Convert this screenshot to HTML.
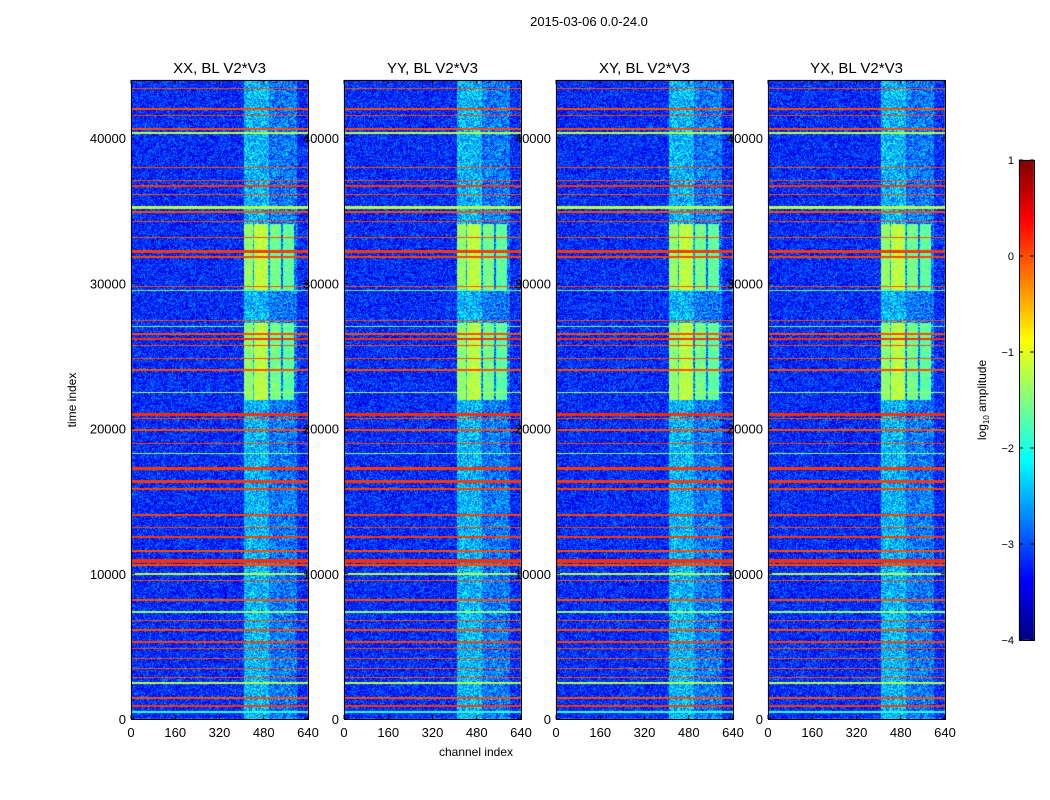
<!DOCTYPE html>
<html><head><meta charset="utf-8">
<style>
body{margin:0;background:#fff;width:1050px;height:800px;overflow:hidden;font-family:"Liberation Sans",sans-serif}
#wrap{position:relative;width:1050px;height:800px}
canvas,svg{position:absolute;left:0;top:0}
text{font-family:"Liberation Sans",sans-serif;fill:#000}
</style></head><body>
<div id="wrap">
<canvas id="cv" width="1050" height="800"></canvas>
<svg id="sv" width="1050" height="800"></svg>
</div>
<script>
// ---- data ----
const panelTitles = ["XX, BL V2*V3","YY, BL V2*V3","XY, BL V2*V3","YX, BL V2*V3"];
const xTicks = [0,160,320,480,640];
const yTicks = [0,10000,20000,30000,40000];
const cbTicks = [1,0,-1,-2,-3,-4];
const baseLevel = -3.2;
// horizontal RFI bands: time, width (time units), log10 amplitude
const bandTimes  = [43416,41970,41560,40640,40350,37960,37090,36700,36130,35210,34910,34250,33150,32190,31820,29760,29500,27420,27000,26510,26160,25700,24830,24030,22490,20960,20700,19910,18990,18300,17230,16360,15850,14020,13180,12530,11550,10860,10600,10010,9550,8180,7370,6800,6120,5310,4850,4170,3480,2860,2450,1460,890,500];
const bandWidths = [80,140,90,120,80,80,100,140,80,220,90,120,80,160,120,90,70,80,70,120,160,100,90,90,110,260,120,100,90,80,220,200,150,140,100,120,110,280,90,130,90,110,140,100,90,100,80,110,90,90,140,110,160,120];
const bandLevels = [0.0,0.0,0.05,0.0,-1.2,0.0,0.0,0.1,0.0,-1.2,0.0,0.05,0.0,0.1,0.05,0.0,-1.6,0.0,-1.5,0.0,0.15,0.0,0.0,0.0,-1.3,0.15,0.0,0.0,0.05,-1.4,0.1,0.1,0.05,0.05,0.05,0.1,0.0,0.15,0.0,-1.2,0.0,0.0,-1.4,0.0,0.0,0.05,0.0,0.0,0.0,0.0,-1.2,0.0,0.1,-1.9];
// elevated channel region and strong RFI blocks
const regionChans = [[410,500],[500,600]];
const regionLevels = [-2.45,-2.8];
const blockTimes = [[22000,27300],[29500,34100]];
const blockChans = [[410,440],[446,496],[503,541],[548,590]];
const blockLevels = [-1.4,-1.2,-1.55,-1.65];
// ---- layout ----
const panelX = [131,344,556,768], PW=177, PT=80, PB=719;
const tMax = 44000, cMax = 640;
const yOf = t => PB - t/tMax*(PB-PT);
const xOf = (p,c) => panelX[p] + c/cMax*PW;
function jet(v){let t=(v+4)/5;t=Math.max(0,Math.min(1,t));
 const f=x=>Math.round(255*Math.max(0,Math.min(1,x)));
 return [f(1.5-Math.abs(4*t-3)),f(1.5-Math.abs(4*t-2)),f(1.5-Math.abs(4*t-1))];}
function hash(a,b){let h=(a*374761393+b*668265263)^0x5bd1e995;h=(h^(h>>>13))*1274126177;return ((h^(h>>>16))>>>0)/4294967295;}
function valueAt(p,c,t,i,j){
 let v=baseLevel + (hash(i+p*999,j)-0.5)*1.1;
 for(let k=0;k<regionChans.length;k++){const rc=regionChans[k];
  if(c>=rc[0]&&c<rc[1]) v=regionLevels[k]+(hash(j,i+7)-0.5)*1.3;}
 for(const bt of blockTimes){if(t>=bt[0]&&t<=bt[1]){
  for(let k=0;k<blockChans.length;k++){const bc=blockChans[k];
   if(c>=bc[0]&&c<=bc[1]) v=blockLevels[k]+(hash(i,j+3)-0.5)*0.7;}}}
 for(let k=0;k<bandTimes.length;k++){if(Math.abs(t-bandTimes[k])<=bandWidths[k]/2){v=bandLevels[k];break;}}
 return v;}
const cv=document.getElementById('cv'),ctx=cv.getContext('2d');
const img=ctx.createImageData(1050,800);
for(let p=0;p<4;p++){for(let j=PT;j<PB;j++){const t=(PB-j-0.5)/(PB-PT)*tMax;
 for(let i=panelX[p];i<panelX[p]+PW;i++){const c=(i-panelX[p]+0.5)/PW*cMax;
  const col=jet(valueAt(p,c,t,i-panelX[p],j));const o=(j*1050+i)*4;
  img.data[o]=col[0];img.data[o+1]=col[1];img.data[o+2]=col[2];img.data[o+3]=255;}}}
// colorbar
for(let j=160;j<640;j++){const v=1-(j-160)/480*5;const col=jet(v);
 for(let i=1019;i<1034;i++){const o=(j*1050+i)*4;img.data[o]=col[0];img.data[o+1]=col[1];img.data[o+2]=col[2];img.data[o+3]=255;}}
ctx.putImageData(img,0,0);
// ---- SVG overlay ----
const sv=document.getElementById('sv');const NS='http://www.w3.org/2000/svg';
function mk(tag,attrs,txt){const e=document.createElementNS(NS,tag);for(const k in attrs)e.setAttribute(k,attrs[k]);if(txt!==undefined)e.textContent=txt;sv.appendChild(e);return e;}
let e=mk('text',{x:589,y:26,'text-anchor':'middle','font-size':13},'2015-03-06 0.0-24.0');


for(let p=0;p<4;p++){
 const x0=panelX[p];
 e=mk('rect',{x:x0+0.5,y:PT+0.5,width:PW,height:PB-PT,fill:'none',stroke:'#000','stroke-width':1});
 
 
 e=mk('text',{x:x0+PW/2,y:73,'text-anchor':'middle','font-size':15},panelTitles[p]);
 
 
 for(const xt of xTicks){const x=xOf(p,xt);
  mk('line',{x1:x,x2:x,y1:PB,y2:PB-4,stroke:'#000'});mk('line',{x1:x,x2:x,y1:PT,y2:PT+4,stroke:'#000'});
  e=mk('text',{x:x,y:737,'text-anchor':'middle','font-size':13},String(xt));
  
  }
 for(const yt of yTicks){const y=yOf(yt);
  mk('line',{x1:x0,x2:x0+4,y1:y,y2:y,stroke:'#000'});mk('line',{x1:x0+PW,x2:x0+PW-4,y1:y,y2:y,stroke:'#000'});
  e=mk('text',{x:x0-5,y:y+5,'text-anchor':'end','font-size':13},String(yt));
  
  }
}
e=mk('text',{x:476,y:756,'text-anchor':'middle','font-size':12},'channel index');


e=mk('text',{x:0,y:0,'text-anchor':'middle','font-size':12,transform:'translate(76,400) rotate(-90)'},'time index');


e=mk('rect',{x:1019.5,y:160.5,width:15,height:480,fill:'none',stroke:'#000'});


for(const ct of cbTicks){const y=160+(1-ct)/5*480;
 mk('line',{x1:1019,x2:1023,y1:y,y2:y,stroke:'#000'});mk('line',{x1:1034,x2:1030,y1:y,y2:y,stroke:'#000'});
 e=mk('text',{x:1014,y:y+4,'text-anchor':'end','font-size':11},ct<0?'\u2212'+(-ct):String(ct));
 
 }
e=mk('text',{x:0,y:0,'text-anchor':'middle','font-size':12,transform:'translate(986,400) rotate(-90)'});


e.innerHTML='log<tspan font-size="8" dy="3">10</tspan><tspan dy="-3"> amplitude</tspan>';
</script>
</body></html>
